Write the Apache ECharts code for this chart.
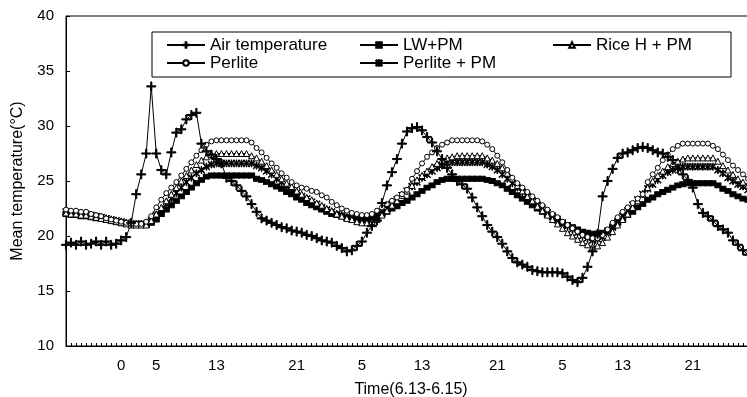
<!DOCTYPE html>
<html>
<head>
<meta charset="utf-8">
<script src="https://cdn.jsdelivr.net/npm/echarts@6/dist/echarts.min.js"></script>
<style>
html,body{margin:0;padding:0;background:#fff;}
#c{width:747px;height:397px;}
</style>
</head>
<body>
<div id="c"></div>
<script>
// ---- data ----
const tickLabels = ['0','5','13','21','5','13','21','5','13','21'];
const tickIndex  = [11,18,30,46,59,71,86,99,111,125];

const airTemp = [
19.2,19.4,19.2,19.5,19.2,19.3,19.5,19.2,19.5,19.2,
19.3,19.6,19.9,21.2,23.8,25.6,27.5,33.6,27.5,26.0,
25.6,27.6,29.4,29.7,30.6,31.0,31.2,28.4,27.7,27.4,
27.0,26.6,25.3,25.0,24.6,24.1,23.6,22.9,22.2,21.6,
21.4,21.2,21.0,20.8,20.7,20.5,20.4,20.3,20.1,20.0,
19.8,19.6,19.5,19.4,19.1,18.9,18.6,18.7,19.1,19.5,
20.3,20.9,21.4,23.0,24.6,25.8,27.0,28.4,29.5,29.8,
29.9,29.6,29.0,28.5,27.7,27.0,26.2,25.6,25.0,24.7,
24.3,23.5,22.6,21.8,21.0,20.4,19.9,19.3,18.6,18.0,
17.6,17.4,17.2,16.9,16.8,16.7,16.7,16.7,16.7,16.6,
16.3,16.0,15.8,16.2,17.2,18.6,20.2,23.6,25.0,26.1,
27.1,27.5,27.6,27.8,28.0,28.1,28.0,27.8,27.6,27.5,
27.2,26.9,26.1,25.6,25.1,24.4,22.9,22.1,21.8,21.4,
20.9,20.6,20.3,19.6,19.2,18.7,18.3];

const lwPm = [
22.0,21.9,21.9,21.8,21.8,21.7,21.6,21.6,21.5,21.4,
21.3,21.2,21.1,21.1,21.0,21.0,21.0,21.2,21.5,22.0,
22.4,22.8,23.2,23.6,24.0,24.4,24.8,25.1,25.4,25.5,
25.5,25.5,25.5,25.5,25.5,25.5,25.5,25.5,25.2,25.1,
24.9,24.7,24.5,24.3,24.0,23.8,23.5,23.3,23.0,22.8,
22.6,22.4,22.2,22.0,21.9,21.8,21.7,21.7,21.6,21.6,
21.6,21.7,21.8,22.0,22.2,22.5,22.7,23.0,23.2,23.5,
23.8,24.1,24.4,24.6,24.9,25.1,25.2,25.2,25.2,25.2,
25.2,25.2,25.2,25.2,25.1,25.0,24.8,24.6,24.3,24.0,
23.7,23.4,23.1,22.8,22.5,22.2,21.9,21.7,21.4,21.2,
21.0,20.8,20.6,20.4,20.3,20.2,20.2,20.3,20.5,20.8,
21.2,21.5,21.9,22.2,22.6,22.9,23.3,23.5,23.8,24.0,
24.2,24.4,24.6,24.7,24.8,24.8,24.8,24.8,24.8,24.8,
24.6,24.3,24.1,23.8,23.6,23.4,23.3];

const riceHPm = [
22.1,22.0,22.0,21.9,21.9,21.8,21.7,21.6,21.5,21.4,
21.3,21.2,21.1,21.0,21.0,21.0,21.0,21.4,22.0,22.6,
23.2,23.8,24.4,25.0,25.5,26.0,26.5,26.9,27.2,27.4,
27.5,27.5,27.5,27.5,27.5,27.5,27.5,27.3,27.1,26.8,
26.4,26.0,25.6,25.2,24.8,24.5,24.1,23.8,23.5,23.3,
23.0,22.8,22.5,22.3,22.0,21.8,21.6,21.5,21.3,21.2,
21.2,21.3,21.5,21.9,22.3,22.8,23.2,23.7,24.1,24.6,
25.1,25.5,25.9,26.3,26.6,26.9,27.1,27.2,27.3,27.3,
27.3,27.3,27.3,27.3,27.1,26.9,26.6,26.2,25.7,25.2,
24.6,24.1,23.6,23.2,22.7,22.3,21.9,21.5,21.1,20.7,
20.3,20.0,19.7,19.4,19.2,19.0,19.1,19.4,19.9,20.4,
21.0,21.5,22.0,22.6,23.2,23.8,24.4,25.0,25.5,25.9,
26.3,26.6,26.8,27.0,27.1,27.1,27.1,27.1,27.1,27.1,
26.8,26.4,26.0,25.6,25.2,24.9,24.6];

const perlite = [
22.4,22.3,22.3,22.2,22.2,22.0,21.9,21.8,21.6,21.5,
21.4,21.3,21.2,21.1,21.1,21.1,21.3,21.8,22.6,23.3,
23.9,24.4,24.9,25.5,26.1,26.7,27.3,27.8,28.3,28.6,
28.7,28.7,28.7,28.7,28.7,28.7,28.7,28.5,28.0,27.6,
27.1,26.6,26.2,25.7,25.3,24.9,24.6,24.4,24.3,24.1,
24.0,23.7,23.5,23.1,22.8,22.5,22.3,22.1,22.0,21.9,
21.9,22.0,22.3,22.6,22.9,23.2,23.5,23.8,24.2,25.2,
25.9,26.6,27.2,27.6,28.0,28.3,28.5,28.7,28.7,28.7,
28.7,28.7,28.7,28.6,28.3,27.9,27.3,26.7,26.0,25.3,
24.8,24.4,24.0,23.6,23.2,22.8,22.4,22.0,21.7,21.3,
21.0,20.7,20.4,20.1,19.9,19.8,19.8,20.1,20.6,21.2,
21.7,22.2,22.6,23.0,23.4,23.8,24.9,25.6,26.2,26.9,
27.4,27.9,28.2,28.4,28.4,28.4,28.4,28.4,28.4,28.2,
27.9,27.4,26.9,26.4,26.0,25.6,25.2];

const perlitePm = [
22.2,22.1,22.1,22.0,22.0,21.9,21.8,21.7,21.6,21.5,
21.4,21.3,21.2,21.1,21.1,21.1,21.1,21.4,21.9,22.4,
22.9,23.4,23.9,24.4,24.9,25.3,25.7,26.0,26.3,26.5,
26.6,26.6,26.6,26.6,26.6,26.6,26.6,26.6,26.4,26.2,
25.9,25.6,25.2,24.9,24.5,24.2,23.9,23.6,23.4,23.1,
22.9,22.6,22.4,22.2,22.0,21.9,21.7,21.6,21.5,21.5,
21.5,21.6,21.8,22.1,22.5,22.9,23.3,23.7,24.1,24.5,
24.9,25.3,25.6,25.9,26.2,26.4,26.6,26.7,26.7,26.7,
26.7,26.7,26.7,26.7,26.5,26.3,26.0,25.6,25.2,24.8,
24.4,24.0,23.6,23.2,22.8,22.5,22.1,21.8,21.5,21.2,
20.9,20.6,20.3,20.0,19.8,19.6,19.7,19.9,20.3,20.8,
21.3,21.8,22.3,22.8,23.3,23.8,24.3,24.7,25.1,25.5,
25.8,26.0,26.2,26.3,26.3,26.3,26.3,26.3,26.3,26.3,
26.0,25.7,25.3,25.0,24.7,24.5,24.2];

// ---- build ----
const categories = airTemp.map((_, i) => String(i));
const labelMap = {};
tickIndex.forEach((idx, k) => { labelMap[idx] = tickLabels[k]; });

const FONT = "'Liberation Sans', Arial, sans-serif";
const PLUS = 'path://M3.5,0h1v3.5h3.5v1h-3.5v3.5h-1v-3.5h-3.5v-1h3.5z';
const STAR = 'path://M0.3,1.0L1.0,0.3L9.7,9.0L9.0,9.7ZM9.0,0.3L9.7,1.0L1.0,9.7L0.3,9.0ZM4.5,0L5.5,0L5.5,10L4.5,10Z';

function mk(name, data, symbol, size, fill) {
  return {
    name, type: 'line', data,
    symbol, symbolSize: size,
    showSymbol: true, showAllSymbol: true,
    lineStyle: { color: '#000', width: 1 },
    itemStyle: { color: fill, borderColor: '#000', borderWidth: 1 },
    emphasis: { disabled: true },
    animation: false
  };
}

const chart = echarts.init(document.getElementById('c'), null, { renderer: 'canvas' });
chart.setOption({
  backgroundColor: '#fff',
  animation: false,
  textStyle: { fontFamily: FONT, color: '#000' },
  grid: { left: 66, top: 16, right: -1, bottom: 51, containLabel: false, outerBoundsMode: 'none',
          show: true, borderColor: '#000', borderWidth: 1, backgroundColor: 'transparent' },
  legend: {
    left: 152, top: 32, width: 560,
    padding: [4, 5, 5, 14],
    itemGap: 0, itemWidth: 38, itemHeight: 7,
    backgroundColor: '#fff', borderColor: '#000', borderWidth: 1,
    textStyle: { fontFamily: FONT, fontSize: 17, color: '#000', width: 149, lineHeight: 18 },
    data: [
      { name: 'Air temperature' },
      { name: 'LW+PM' },
      { name: 'Rice H + PM', textStyle: { width: 130 } },
      { name: 'Perlite' },
      { name: 'Perlite + PM' }
    ]
  },
  xAxis: {
    type: 'category', data: categories, boundaryGap: false,
    name: 'Time(6.13-6.15)', nameLocation: 'middle', nameGap: 36,
    nameTextStyle: { fontFamily: FONT, fontSize: 16, color: '#000', padding: [0, 0, 0, 8] },
    axisLine: { lineStyle: { color: '#000', width: 1 } },
    axisTick: { show: true, inside: true, length: 3, interval: 0, lineStyle: { color: '#000' } },
    axisLabel: { interval: 0, margin: 12, fontSize: 15, color: '#000', fontFamily: FONT,
      formatter: (v, i) => labelMap[i] || '' },
    splitLine: { show: false }
  },
  yAxis: {
    type: 'value', min: 10, max: 40, interval: 5,
    name: 'Mean temperature(°C)', nameLocation: 'middle', nameGap: 40,
    nameTextStyle: { fontFamily: FONT, fontSize: 16, color: '#000' },
    axisLine: { show: true, lineStyle: { color: '#000', width: 1 } },
    axisTick: { show: true, inside: true, length: 4, lineStyle: { color: '#000' } },
    axisLabel: { margin: 12, fontSize: 15, color: '#000', fontFamily: FONT },
    splitLine: { show: false }
  },
  series: [
    mk('LW+PM', lwPm, 'rect', [6, 5], '#000'),
    mk('Perlite + PM', perlitePm, STAR, 7, '#000'),
    mk('Rice H + PM', riceHPm, 'triangle', 6, '#fff'),
    mk('Perlite', perlite, 'circle', 5, '#fff'),
    mk('Air temperature', airTemp, PLUS, 9, '#000')
  ]
});
</script>
</body>
</html>
